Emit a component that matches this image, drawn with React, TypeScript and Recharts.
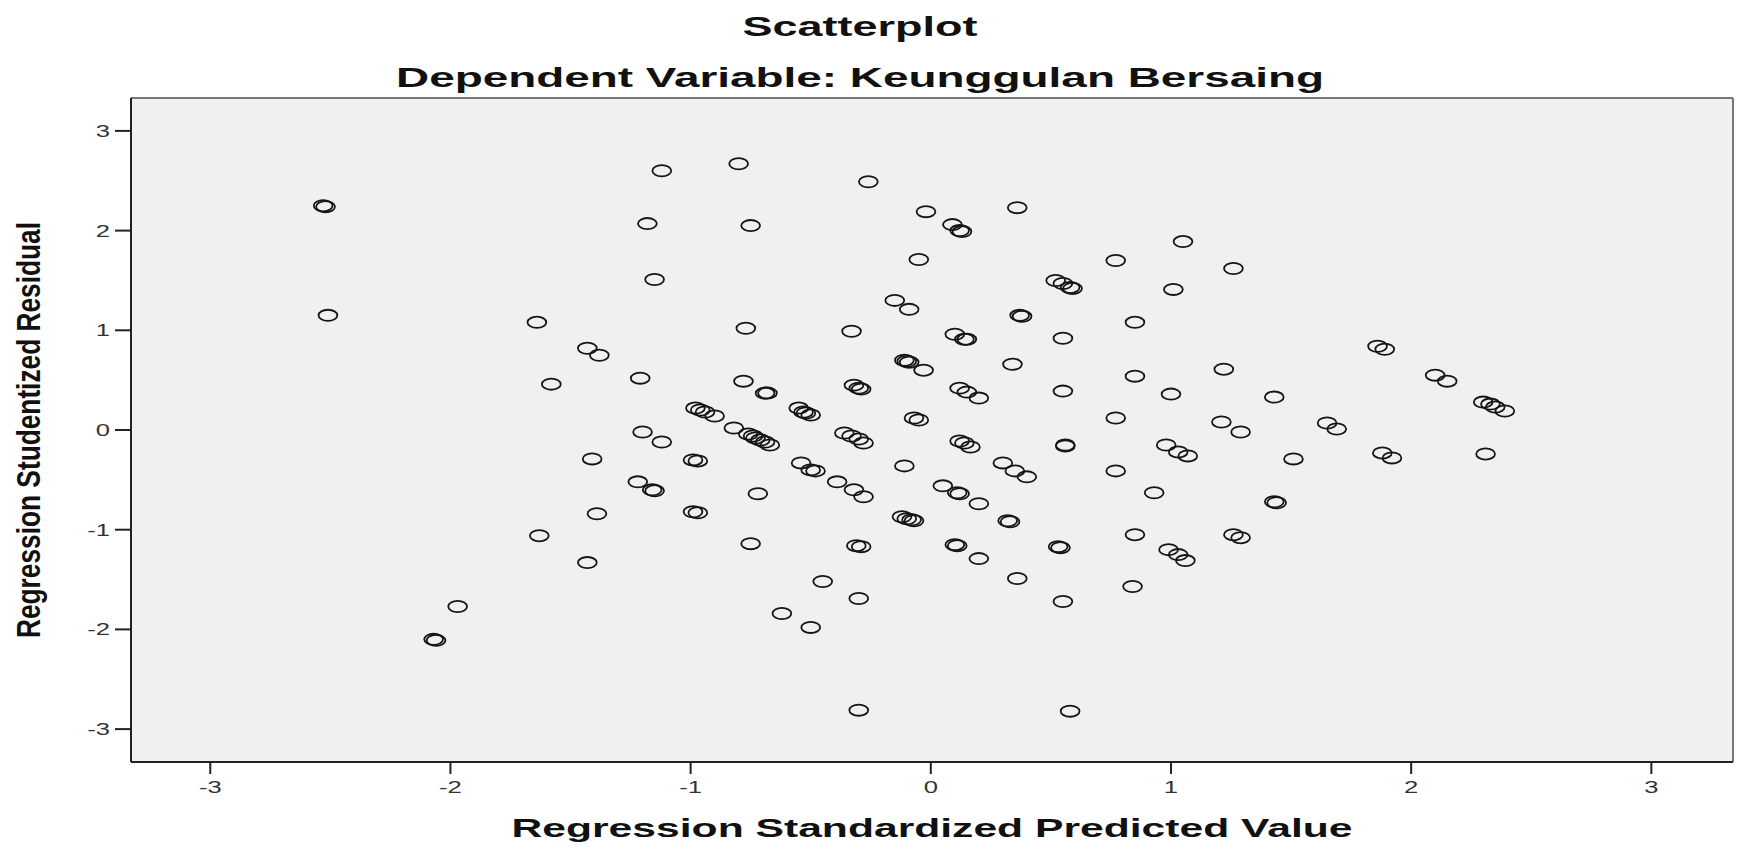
import React from "react";
import {
  ScatterChart,
  Scatter,
  XAxis,
  YAxis,
  CartesianGrid,
  ReferenceLine,
} from "recharts";

// Regression Standardized Predicted Value (x) and Studentized Residual (y)
const predicted: number[] = [
  -2.53, -2.52, -2.51, -1.12, -0.8, -0.26, -1.18, -0.75, -0.02, 0.36,
  0.09, 0.12, 0.13, 1.05, -1.15, -0.05, 0.77, 1.26, 0.52, 0.55,
  0.58, 0.59, 1.01, -1.64, -0.15, -0.09, 0.37, 0.38, -0.77, -0.33,
  0.85, 0.55, 0.1, 0.15, 0.14, 1.86, 1.89, -1.43, -1.38, -0.11,
  -0.09, -0.1, 0.34, -0.03, 1.22, 0.85, -1.21, -0.78, -1.58, 2.1,
  2.15, -0.32, -0.29, -0.3, -0.68, -0.69, 0.12, 0.15, 0.2, 0.55,
  1.0, 1.43, 2.3, 2.33, 2.35, 2.39, -0.98, -0.96, -0.94, -0.9,
  -0.55, -0.53, -0.5, -0.52, -0.07, -0.05, 0.77, 1.21, 1.65, 1.69,
  -0.82, -0.76, -0.74, -0.73, -0.71, -0.69, -0.67, -0.36, -0.33, -0.3,
  -0.28, 1.29, -1.2, -1.12, 0.12, 0.14, 0.165, 0.56, 0.56, 0.98,
  1.03, 1.07, 1.88, 1.92, 2.31, 1.51, -1.41, -0.99, -0.97, -0.54,
  -0.48, -0.5, -0.11, 0.3, 0.35, 0.4, 0.77, -0.39, -0.32, -0.28,
  0.05, 0.11, 0.12, 0.2, -0.72, 0.93, -1.22, -1.16, -1.15, 1.43,
  1.44, -1.39, -0.99, -0.97, -0.12, -0.1, -0.08, -0.07, 0.32, 0.33,
  -1.63, -0.75, -0.31, -0.29, 0.1, 0.11, 0.2, 0.53, 0.54, 0.85,
  1.26, 1.29, 0.99, 1.03, 1.06, -1.43, 0.36, 0.84, -0.45, 0.55,
  -0.3, -0.62, -0.5, -1.97, -2.07, -2.06, -0.3, 0.58,
];

const residual: number[] = [
  2.25, 2.24, 1.15, 2.6, 2.67, 2.49, 2.07, 2.05, 2.19, 2.23,
  2.06, 2.0, 1.99, 1.89, 1.51, 1.71, 1.7, 1.62, 1.5, 1.47,
  1.43, 1.42, 1.41, 1.08, 1.3, 1.21, 1.15, 1.14, 1.02, 0.99,
  1.08, 0.92, 0.96, 0.91, 0.91, 0.84, 0.81, 0.82, 0.75, 0.7,
  0.68, 0.69, 0.66, 0.6, 0.61, 0.54, 0.52, 0.49, 0.46, 0.55,
  0.49, 0.45, 0.41, 0.42, 0.37, 0.37, 0.42, 0.38, 0.32, 0.39,
  0.36, 0.33, 0.28, 0.26, 0.23, 0.19, 0.22, 0.2, 0.18, 0.14,
  0.22, 0.18, 0.15, 0.17, 0.12, 0.1, 0.12, 0.08, 0.07, 0.01,
  0.02, -0.04, -0.06, -0.08, -0.1, -0.12, -0.15, -0.03, -0.06, -0.09,
  -0.13, -0.02, -0.02, -0.12, -0.11, -0.13, -0.17, -0.15, -0.16, -0.15,
  -0.22, -0.26, -0.23, -0.28, -0.24, -0.29, -0.29, -0.3, -0.31, -0.33,
  -0.41, -0.4, -0.36, -0.33, -0.41, -0.47, -0.41, -0.52, -0.6, -0.67,
  -0.56, -0.63, -0.64, -0.74, -0.64, -0.63, -0.52, -0.6, -0.61, -0.72,
  -0.73, -0.84, -0.82, -0.83, -0.87, -0.89, -0.9, -0.91, -0.91, -0.92,
  -1.06, -1.14, -1.16, -1.17, -1.15, -1.16, -1.29, -1.17, -1.18, -1.05,
  -1.05, -1.08, -1.2, -1.25, -1.31, -1.33, -1.49, -1.57, -1.52, -1.72,
  -1.69, -1.84, -1.98, -1.77, -2.1, -2.11, -2.81, -2.82,
];

const tickValues: number[] = [-3, -2, -1, 0, 1, 2, 3];
const xDomain: [number, number] = [-3.33, 3.34];
const yDomain: [number, number] = [-3.33, 3.33];

const titleText = "Scatterplot";
const subtitleText = "Dependent Variable: Keunggulan Bersaing";
const xLabelText = "Regression Standardized Predicted Value";
const yLabelText = "Regression Studentized Residual";

const points = predicted.map((x, i) => ({ x, y: residual[i] }));

const FONT = "'Liberation Sans', Arial, Helvetica, sans-serif";

const RingShape = (props: any) => {
  const { cx, cy } = props;
  if (cx == null || cy == null) return null;
  return (
    <ellipse
      cx={cx}
      cy={cy}
      rx={9.4}
      ry={5.6}
      fill="none"
      stroke="#151515"
      strokeWidth={1.8}
    />
  );
};

const XTick = (props: any) => {
  const { x, y, payload } = props;
  return (
    <g transform={`translate(${x},${y})`}>
      <text
        x={0}
        y={0}
        dy={11}
        transform="scale(1.6,1)"
        textAnchor="middle"
        fontSize={16}
        fontFamily={FONT}
        fill="#333"
      >
        {payload.value}
      </text>
    </g>
  );
};

const YTick = (props: any) => {
  const { x, y, payload } = props;
  return (
    <g transform={`translate(${x},${y})`}>
      <text
        x={0}
        y={0}
        dy={6}
        transform="scale(1.6,1)"
        textAnchor="end"
        fontSize={16}
        fontFamily={FONT}
        fill="#333"
      >
        {payload.value}
      </text>
    </g>
  );
};

export default function App() {
  return (
    <div
      style={{
        position: "absolute",
        left: 0,
        top: 0,
        width: 1742,
        height: 852,
        background: "#ffffff",
      }}
    >
      <ScatterChart
        width={1742}
        height={852}
        margin={{ top: 98, right: 9, bottom: 0, left: 0 }}
      >
        <CartesianGrid
          horizontal={false}
          vertical={false}
          fill="#f0f0f0"
          fillOpacity={1}
        />
        <XAxis
          type="number"
          dataKey="x"
          domain={xDomain}
          ticks={tickValues}
          allowDataOverflow
          height={90}
          tickSize={12}
          tickMargin={8}
          axisLine={{ stroke: "#222", strokeWidth: 2 }}
          tickLine={{ stroke: "#222", strokeWidth: 2 }}
          tick={<XTick />}
        />
        <YAxis
          type="number"
          dataKey="y"
          domain={yDomain}
          ticks={tickValues}
          allowDataOverflow
          width={131}
          tickSize={16}
          tickMargin={5}
          axisLine={{ stroke: "#222", strokeWidth: 2 }}
          tickLine={{ stroke: "#222", strokeWidth: 2 }}
          tick={<YTick />}
        />
        <ReferenceLine
          y={yDomain[1]}
          stroke="#777"
          strokeWidth={2}
          ifOverflow="visible"
        />
        <ReferenceLine
          x={xDomain[1]}
          stroke="#777"
          strokeWidth={2}
          ifOverflow="visible"
        />
        <Scatter
          data={points}
          shape={RingShape}
          isAnimationActive={false}
        />
      </ScatterChart>
      <svg
        width={1742}
        height={852}
        style={{ position: "absolute", left: 0, top: 0, pointerEvents: "none" }}
      >
        <text
          x={860}
          y={36}
          textAnchor="middle"
          fontSize={28}
          fontWeight="bold"
          fontFamily={FONT}
          fill="#111"
          textLength={235}
          lengthAdjust="spacingAndGlyphs"
        >
          {titleText}
        </text>
        <text
          x={860}
          y={87}
          textAnchor="middle"
          fontSize={27}
          fontWeight="bold"
          fontFamily={FONT}
          fill="#111"
          textLength={928}
          lengthAdjust="spacingAndGlyphs"
        >
          {subtitleText}
        </text>
        <text
          x={932}
          y={837}
          textAnchor="middle"
          fontSize={25}
          fontWeight="bold"
          fontFamily={FONT}
          fill="#111"
          textLength={841}
          lengthAdjust="spacingAndGlyphs"
        >
          {xLabelText}
        </text>
        <text
          transform="translate(40,430) rotate(-90)"
          x={0}
          y={0}
          textAnchor="middle"
          fontSize={33}
          fontWeight="bold"
          fontFamily={FONT}
          fill="#111"
          textLength={416}
          lengthAdjust="spacingAndGlyphs"
        >
          {yLabelText}
        </text>
      </svg>
    </div>
  );
}
